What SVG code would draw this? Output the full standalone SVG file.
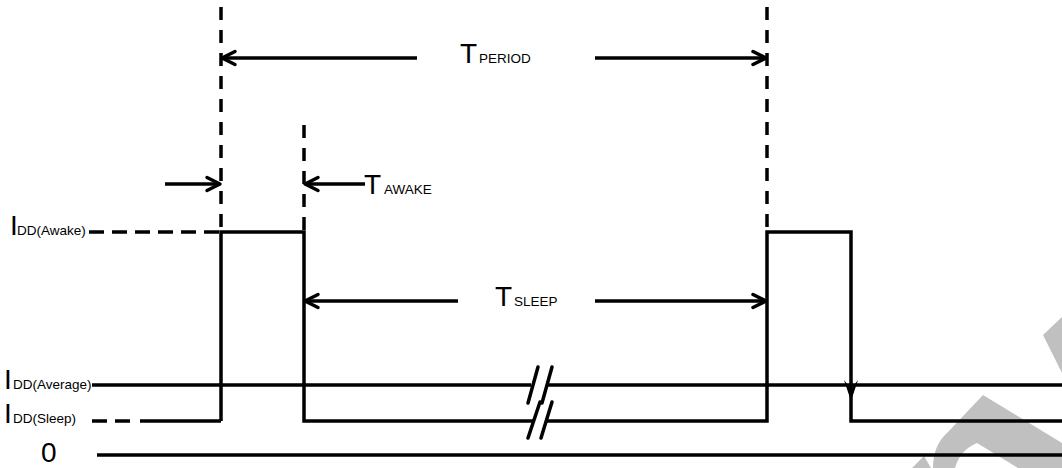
<svg xmlns="http://www.w3.org/2000/svg" width="1062" height="468" viewBox="0 0 1062 468">
  <style>
    .ln { fill: none; stroke: #000; stroke-width: 3.5; }
    .dv { fill: none; stroke: #000; stroke-width: 3.5; stroke-dasharray: 13 10; }
    .dh { fill: none; stroke: #000; stroke-width: 3.5; stroke-dasharray: 15 8; }
    .br { fill: none; stroke: #000; stroke-width: 3.5; stroke-linecap: round; }
    .big { font-family: "Liberation Sans", Arial, sans-serif; font-size: 28px; fill: #000; }
    .sub { font-family: "Liberation Sans", Arial, sans-serif; font-size: 13.5px; fill: #000; }
    .wm { fill: #c0c0c0; stroke: none; }
  </style>
  <defs>
    <marker id="ah" markerUnits="userSpaceOnUse" markerWidth="20" markerHeight="20" viewBox="-16 -10 20 20" refX="0" refY="0" orient="auto" overflow="visible">
      <path d="M-13,-6.5 L0,0 L-13,6.5" fill="none" stroke="#000" stroke-width="3.5" stroke-linecap="round" stroke-linejoin="round"/>
    </marker>
  </defs>
  <rect width="1062" height="468" fill="#fff"/>

  <g id="watermark">
    <path class="wm" d="M1043,335 L1062,317 L1062,373 Z"/>
    <path class="wm" d="M983,395 L1062,443 L1062,468 L1018,468 L977,443 Q960,450 955,468 L933,468 Q933,445 948,432 Z"/>
    <path class="wm" d="M912,468 L924,456 L931,468 Z"/>
  </g>

  <g id="guides">
    <line class="dv" x1="221" y1="7" x2="221" y2="232"/>
    <line class="dv" x1="304" y1="125" x2="304" y2="232"/>
    <line class="dv" x1="767" y1="7" x2="767" y2="232"/>
    <line class="dh" x1="89" y1="232" x2="221" y2="232"/>
    <path class="ln" d="M92,421 H107 M115,421 H130 M140,421 H221"/>
  </g>

  <g id="levels">
    <path class="ln" d="M92,385 H531 M547,385 H1062"/>
    <path class="ln" d="M97,455 H1062"/>
  </g>

  <g id="waveform">
    <path class="ln" d="M221,421 V232 H304 V421 H533"/>
    <path class="ln" d="M546,421 H767 V232 H851 V421 H1062"/>
    <path d="M844,380 L851,401 L858,380 L851,389 Z" fill="#000"/>
  </g>

  <g id="breaks">
    <line class="br" x1="538" y1="367" x2="528" y2="403"/>
    <line class="br" x1="552" y1="367" x2="542" y2="403"/>
    <line class="br" x1="540" y1="402" x2="528" y2="438"/>
    <line class="br" x1="552" y1="402" x2="541" y2="438"/>
  </g>

  <g id="connectors">
    <line class="ln" x1="417" y1="58" x2="222" y2="58" marker-end="url(#ah)"/>
    <line class="ln" x1="595" y1="58" x2="766" y2="58" marker-end="url(#ah)"/>
    <line class="ln" x1="458" y1="301" x2="305" y2="301" marker-end="url(#ah)"/>
    <line class="ln" x1="595" y1="301" x2="766" y2="301" marker-end="url(#ah)"/>
    <line class="ln" x1="165" y1="184" x2="220" y2="184" marker-end="url(#ah)"/>
    <line class="ln" x1="365" y1="184" x2="305" y2="184" marker-end="url(#ah)"/>
  </g>

  <g id="label-tperiod">
    <text class="big" x="460" y="63">T</text>
    <text class="sub" x="479" y="63" font-size="14">PERIOD</text>
  </g>
  <g id="label-tsleep">
    <text class="big" x="495" y="306">T</text>
    <text class="sub" x="514" y="306" font-size="14">SLEEP</text>
  </g>
  <g id="label-tawake">
    <text class="big" x="364" y="194">T</text>
    <text class="sub" x="384" y="194">AWAKE</text>
  </g>
  <g id="label-idd-awake">
    <text class="big" x="10" y="235" font-size="26">I</text>
    <text class="sub" x="17" y="235">DD(Awake)</text>
  </g>
  <g id="label-idd-average">
    <text class="big" x="4" y="389">I</text>
    <text class="sub" x="13" y="389">DD(Average)</text>
  </g>
  <g id="label-idd-sleep">
    <text class="big" x="4" y="423">I</text>
    <text class="sub" x="13" y="423" font-size="14.5">DD(Sleep)</text>
  </g>
  <g id="label-zero">
    <text class="big" x="41" y="462" font-size="24">0</text>
  </g>
</svg>
